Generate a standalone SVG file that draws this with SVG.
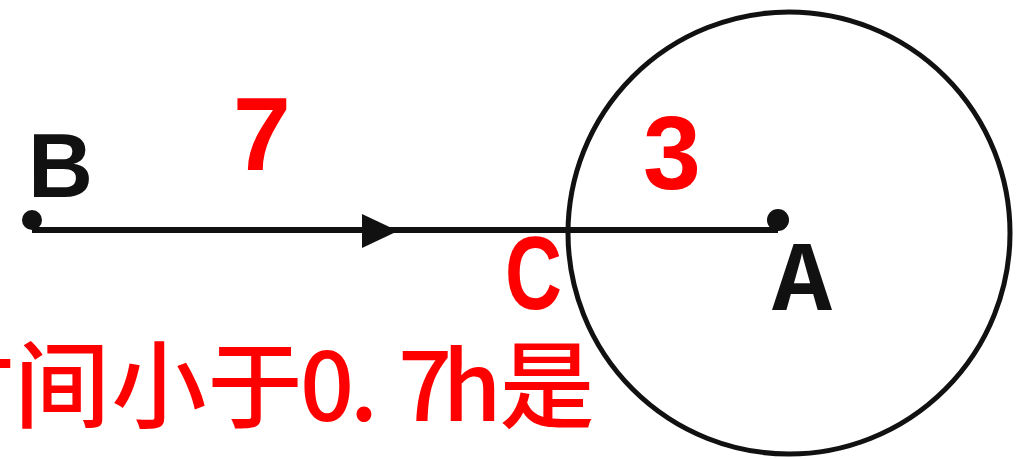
<svg xmlns="http://www.w3.org/2000/svg" width="1026" height="459" viewBox="0 0 1026 459">
  <style>
    .stroke { fill: none; stroke: #111; stroke-width: 5; }
    .conn { fill: none; stroke: #111; stroke-width: 6; }
    .dot { fill: #111; }
    .lblB { font-family: "Liberation Sans", Arial, sans-serif; font-weight: bold; font-size: 90px; fill: #111; }
    .lblA { font-family: "Liberation Mono", "Courier New", monospace; font-weight: bold; font-size: 100px; fill: #111; }
    .red { font-family: "Liberation Sans", Arial, sans-serif; font-weight: bold; font-size: 104px; fill: #ff0000; }
    .cjk { font-family: "Noto Sans CJK SC", sans-serif; font-weight: 500; font-size: 95px; fill: #ff0000; text-anchor: middle; }
  </style>
  <rect x="0" y="0" width="1026" height="459" fill="#ffffff"/>
  <g id="circle-A">
    <circle class="stroke" cx="789" cy="233" r="221"/>
  </g>
  <g id="connectors">
    <line class="conn" x1="32" y1="230" x2="778" y2="230"/>
    <polygon class="dot" points="362,214 398,231 362,248"/>
  </g>
  <g id="node-B">
    <circle class="dot" cx="32" cy="220" r="10"/>
    <text class="lblB" x="28" y="197">B</text>
  </g>
  <g id="node-A">
    <circle class="dot" cx="778" cy="220" r="11"/>
    <text class="lblA" x="772" y="310">A</text>
  </g>
  <g id="node-C">
    <text class="red" x="505" y="309" textLength="57" lengthAdjust="spacingAndGlyphs">C</text>
  </g>
  <g id="label-7">
    <text class="red" x="233" y="170">7</text>
  </g>
  <g id="label-3">
    <text class="red" x="643" y="189">3</text>
  </g>
  <g id="caption">
    <text class="cjk" x="-34 62 159 255 327 364 425 472 547" y="421">时间小于0.7h是</text>
  </g>
</svg>
